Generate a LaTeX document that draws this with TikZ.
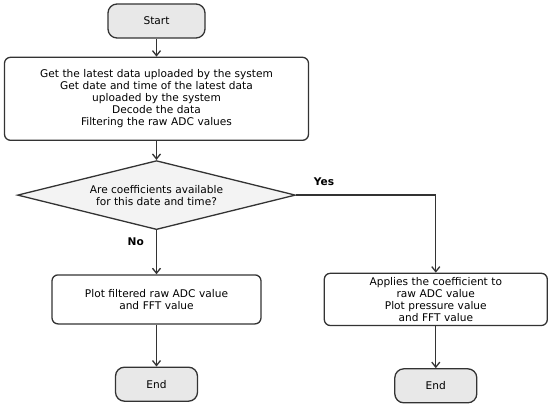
\documentclass[tikz,border=0pt]{standalone}
\usepackage{fontspec}
\setmainfont{DejaVu Sans}
\usepackage{xcolor}
\usepackage{tikz}
\usetikzlibrary{arrows.meta,positioning,shapes.geometric}
\definecolor{fcline}{HTML}{333333}
\definecolor{fcterm}{HTML}{E8E8E8}
\definecolor{fcdecide}{HTML}{F3F3F3}
\tikzset{
  termbox/.style={draw=fcline,line width=1.3pt,rounded corners=9pt,fill=fcterm,
                  align=center,minimum width=82pt,minimum height=34pt,font=\fontsize{10.6}{12}\selectfont},
  procbox/.style={draw=fcline,line width=1.3pt,rounded corners=6pt,fill=white,
                  align=center,inner sep=4pt,font=\fontsize{10.6}{12}\selectfont},
  decision/.style={diamond,draw=fcline,line width=1.3pt,fill=fcdecide,aspect=4,
                   align=center,inner sep=0pt,minimum width=278pt,minimum height=69pt,
                   font=\fontsize{10.6}{12}\selectfont},
  flow/.style={-{Straight Barb[length=5pt,width=8pt]},line width=1.3pt,draw=fcline},
  flowlabel/.style={font=\bfseries\fontsize{10.6}{12}\selectfont,inner sep=0pt}
}
\begin{document}
\begin{tikzpicture}[x=1pt,y=1pt,node distance=18pt and 62pt]
    \useasboundingbox (0,0) rectangle (550,-405);

    \node[termbox,minimum width=97pt] (start) at (156.5,-21) {Start};
    \node[procbox,below=18pt of start,text width=296pt,minimum height=83pt] (read)
      {Get the latest data uploaded by the system\\Get date and time of the latest data\\uploaded by the system\\Decode the data\\Filtering the raw ADC values};
    \node[decision,below=19pt of read] (decide) {Are coefficients available\\for this date and time?};

    \node[procbox,below=44pt of decide,text width=201pt,minimum height=49pt] (plotraw) {Plot filtered raw ADC value\\and FFT value};
    \node[procbox,right=62pt of plotraw,text width=215pt,minimum height=49pt] (plotcoef)
      {Applies the coefficient to\\raw ADC value\\Plot pressure value\\and FFT value};

    \node[termbox,below=42pt of plotraw] (endraw) {End};
    \node[termbox,below=42pt of plotcoef] (endcoef) {End};

    \draw[flow] (start) -- (read);
    \draw[flow] (read) -- (decide);
    \draw[flow] (decide) -- node[flowlabel,pos=0.27,left=12pt]{No} (plotraw);
    \draw[flow] (decide.east) -| node[flowlabel,pos=0.1,above=9pt]{Yes} (plotcoef.north);
    \draw[flow] (plotraw) -- (endraw);
    \draw[flow] (plotcoef) -- (endcoef);
  \end{tikzpicture}
\end{document}
